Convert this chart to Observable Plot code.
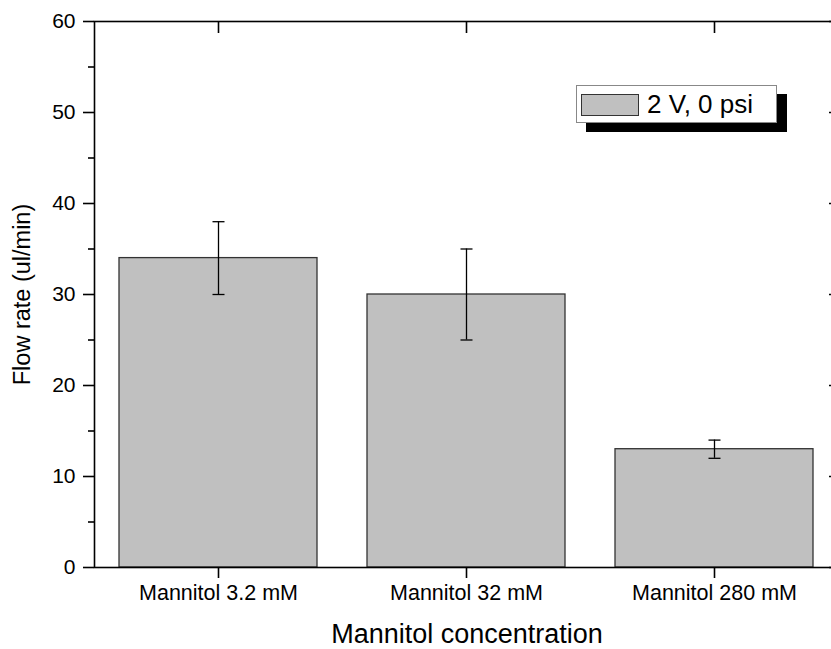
<!DOCTYPE html>
<html>
<head>
<meta charset="utf-8">
<script src="https://cdn.jsdelivr.net/npm/d3@7"></script>
<script src="https://cdn.jsdelivr.net/npm/@observablehq/plot@0.6"></script>
<style>
  html, body { margin: 0; padding: 0; background: #fff; overflow: hidden; }
  #wrap { position: relative; width: 831px; height: 649px; overflow: hidden; font-family: "Liberation Sans", Arial, sans-serif; }
  #chart svg { max-width: none !important; display: block; }
  #legend { position: absolute; left: 576px; top: 85px; width: 199px; height: 36px; background: #fff; border: 1px solid #888; box-shadow: 10px 9px 0 #000; }
  #legend .sw { position: absolute; left: 4px; top: 8px; width: 56px; height: 20px; background: #c0c0c0; border: 1px solid #333; }
  #legend .lab { position: absolute; left: 70px; top: 2px; font-size: 26px; line-height: 32px; color: #000; white-space: nowrap; }
</style>
</head>
<body>
<div id="wrap">
  <div id="chart"></div>
  <div id="legend"><div class="sw"></div><div class="lab"></div></div>
</div>
<script>
const categories = ["Mannitol 3.2 mM", "Mannitol 32 mM", "Mannitol 280 mM"];
const flowRates = [34, 30, 13];
const errLow = [30, 25, 12];
const errHigh = [38, 35, 14];
const yMajorTicks = [0, 10, 20, 30, 40, 50, 60];
const yMinorTicks = [5, 15, 25, 35, 45, 55];
const seriesName = "2 V, 0 psi";
const xTitle = "Mannitol concentration";
const yTitle = "Flow rate (ul/min)";

const data = categories.map((c, i) => ({cat: c, value: flowRates[i], lo: errLow[i], hi: errHigh[i]}));

const W = 840, H = 649, mL = 94, mR = 1, mT = 21, mB = 82;
const blank = () => "";

// horizontal cap symbol for error bars
const capSymbol = {
  draw(context, size) {
    const r = Math.sqrt(size / Math.PI);
    context.moveTo(-r, 0);
    context.lineTo(r, 0);
  }
};

const chart = Plot.plot({
  width: W, height: H,
  marginLeft: mL, marginRight: mR, marginTop: mT, marginBottom: mB,
  style: {fontFamily: "'Liberation Sans', Arial, sans-serif", background: "white", color: "#000"},
  x: {domain: categories, paddingInner: 0.2, paddingOuter: 0.1, label: null},
  y: {domain: [0, 60], label: null},
  marks: [
    Plot.barY(data, {x: "cat", y: "value", fill: "#c0c0c0", stroke: "#333", strokeWidth: 1.3}),
    Plot.ruleX(data, {x: "cat", y1: "lo", y2: "hi", stroke: "#000", strokeWidth: 1.3}),
    Plot.dot(data, {x: "cat", y: "lo", symbol: capSymbol, r: 6, stroke: "#000", strokeWidth: 1.3, fill: "none"}),
    Plot.dot(data, {x: "cat", y: "hi", symbol: capSymbol, r: 6, stroke: "#000", strokeWidth: 1.3, fill: "none"}),
    Plot.frame({stroke: "#000", strokeWidth: 1.6}),
    Plot.axisY({ticks: yMajorTicks, tickSize: 11, tickPadding: 8, fontSize: 21, strokeWidth: 1.6, tickFormat: d => String(d)}),
    Plot.axisY({ticks: yMinorTicks, tickSize: 6, strokeWidth: 1.6, tickFormat: blank}),
    Plot.axisY({anchor: "right", ticks: yMajorTicks, tickSize: 11, dx: -11, strokeWidth: 1.6, tickFormat: blank}),
    Plot.axisX({anchor: "bottom", tickSize: 11, tickPadding: 6, fontSize: 21.5, strokeWidth: 1.6}),
    Plot.axisX({anchor: "top", tickSize: 11, dy: 11, strokeWidth: 1.6, tickFormat: blank}),
    Plot.text([yTitle], {frameAnchor: "left", dx: -72, rotate: -90, textAnchor: "middle", fontSize: 23.5, fill: "#000"}),
    Plot.text([xTitle], {frameAnchor: "bottom", dy: 67, fontSize: 27, fill: "#000", lineAnchor: "middle"})
  ]
});
document.getElementById("chart").appendChild(chart);
document.querySelector("#legend .lab").textContent = seriesName;
</script>
</body>
</html>
